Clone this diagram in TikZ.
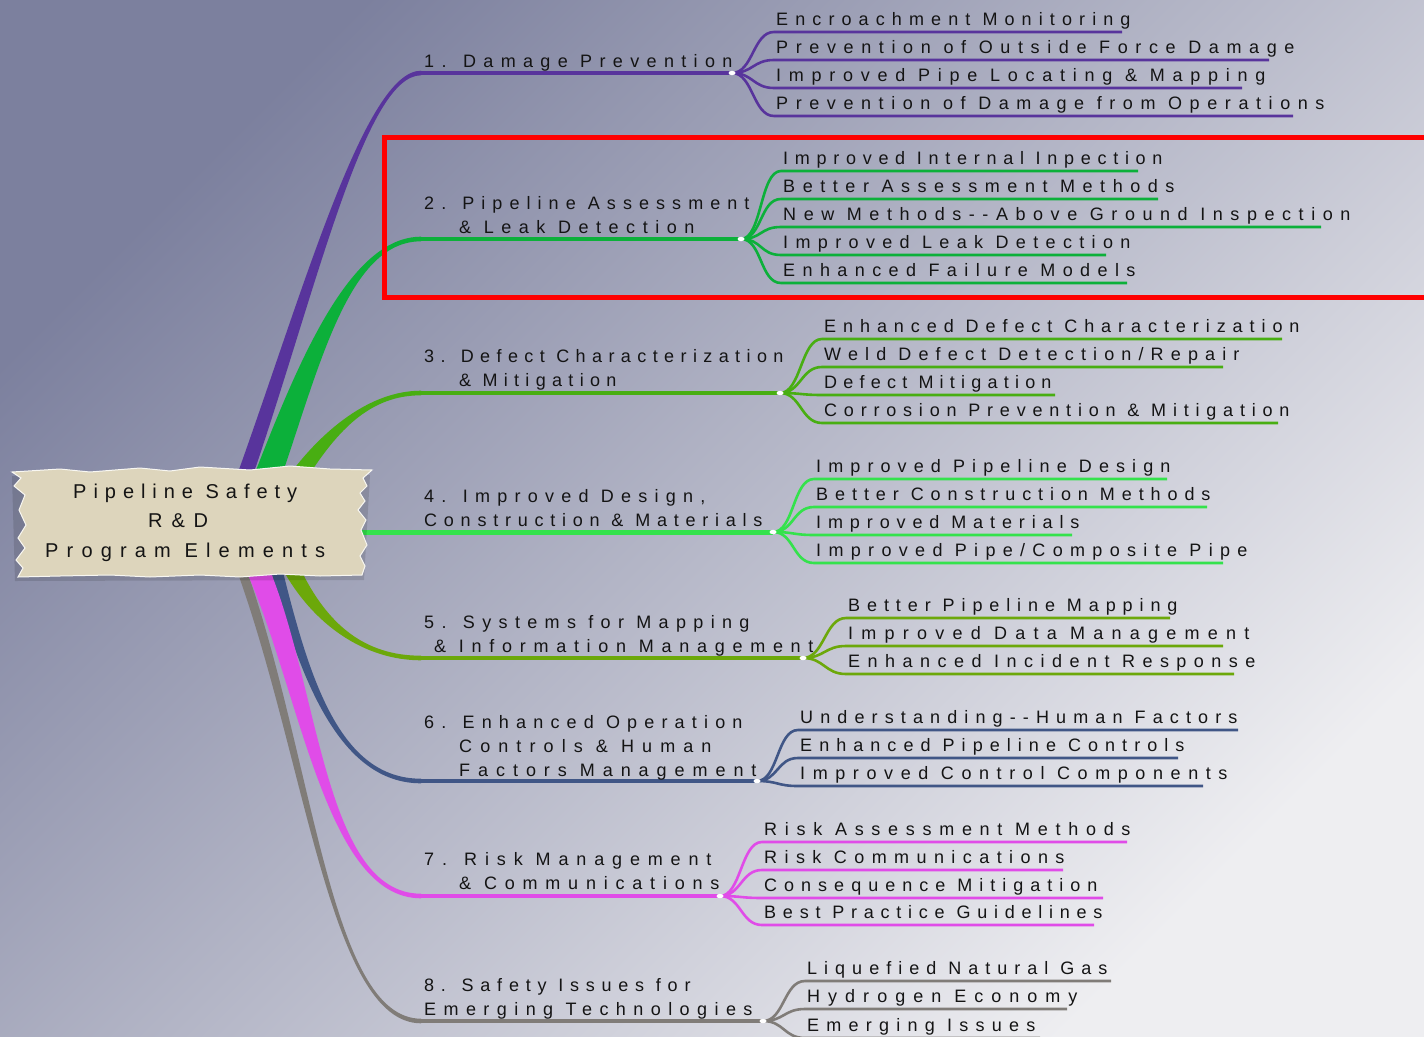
\documentclass[tikz,border=0pt]{standalone}
\usepackage{fontspec}
\setmainfont{Liberation Sans}
\newfontfamily\lsfont{Liberation Sans}
\usetikzlibrary{calc}
\definecolor{bgdark}{RGB}{124,128,158}
\definecolor{bglight}{RGB}{238,238,241}
\definecolor{cOne}{RGB}{88,52,156}
\definecolor{cTwo}{RGB}{12,176,58}
\definecolor{cThree}{RGB}{72,174,18}
\definecolor{cFour}{RGB}{52,226,76}
\definecolor{cFive}{RGB}{108,168,10}
\definecolor{cSix}{RGB}{64,86,134}
\definecolor{cSeven}{RGB}{224,76,232}
\definecolor{cEight}{RGB}{128,124,120}
\definecolor{paper}{RGB}{221,213,188}
\definecolor{txt}{RGB}{20,20,20}
% letter-spaced text fitted to a given visual width: size, width, text
\newlength\fitwa
\newlength\fitwb
\newcommand\fitted[3]{%
  \settowidth\fitwa{\lsfont\fontsize{#1}{#1}\selectfont #3}%
  \settowidth\fitwb{\lsfont\fontsize{#1}{#1}\selectfont\addfontfeature{LetterSpace=40}#3}%
  \pgfmathsetmacro\fitls{40*((#2)-0.15*#1-\fitwa)/(\fitwb-\fitwa)}%
  \lsfont\fontsize{#1}{#1}\selectfont
  \edef\fitnext{\noexpand\addfontfeature{LetterSpace=\fitls}}\fitnext #3}
% tapered branch: colour, x0, y0, half width, c1x, c1y, c2x, yend, sign
\newcommand\tapbranch[9]{%
  \fill[#1] ({#2-#4},#3) .. controls ({#5-0.8*#4},#6) and (#7,{#8-2.3*#9}) .. (421,{#8-2.3*#9})
    -- (421,{#8+2.3*#9}) .. controls (#7,{#8+2.3*#9}) and ({#5+0.8*#4},#6) .. ({#2+#4},#3) -- cycle;}
% leaf: name, colour, junction, start x, underline y, end x, text end x, text
\newcommand\leaf[8]{%
  \coordinate (#1s) at (#4,#5);
  \coordinate (#1e) at (#6,#5);
  \draw[subline,#2] (#3) .. controls +(21,0) and +(-21,0) .. (#1s) -- (#1e);
  \node[lbl] (#1) at ({#4+2},{#5-7}) {\fitted{18}{#7-#4-2}{#8}};}
\begin{document}
\begin{tikzpicture}[x=1pt,y=-1pt,
  lbl/.style={anchor=base west,inner sep=0pt,text=txt},
  mainline/.style={line width=4.5pt},
  subline/.style={line width=2.6pt},
  hub/.style={fill=white},
  redbox/.style={draw=red,line width=5pt}]
\useasboundingbox (0,0) rectangle (1424,1036);
\clip (0,0) rectangle (1424,1036);
\shade[top color=bgdark,bottom color=bglight,shading angle=45] (0,0) rectangle (1424,1036);

% junctions
\coordinate (j1) at (732,73);
\coordinate (j2) at (741,239);
\coordinate (j3) at (780,393);
\coordinate (j4) at (773,532);
\coordinate (j5) at (803,658);
\coordinate (j6) at (757,781);
\coordinate (j7) at (720,896);
\coordinate (j8) at (763,1021);
\coordinate (r4) at (360,532);

% main branches from the root
\tapbranch{cOne}{244}{478}{8}{310}{290}{365}{73}{1}
\tapbranch{cTwo}{267}{478}{14}{310}{360}{350}{239}{1}
\tapbranch{cThree}{297}{478}{10}{330}{430}{370}{393}{1}
\tapbranch{cEight}{241}{568}{5}{310}{760}{330}{1021}{-1}
\tapbranch{cSix}{276}{568}{6}{305}{680}{340}{781}{-1}
\tapbranch{cFive}{291}{568}{9}{320}{625}{365}{658}{-1}
\tapbranch{cSeven}{257}{568}{12}{310}{690}{325}{896}{-1}
\draw[mainline,cOne] (419,73) -- (j1);
\draw[mainline,cTwo] (419,239) -- (j2);
\draw[mainline,cThree] (419,393) -- (j3);
\draw[line width=5pt,cFour] (r4) -- (j4);
\draw[mainline,cFive] (419,658) -- (j5);
\draw[mainline,cSix] (419,781) -- (j6);
\draw[mainline,cSeven] (419,896) -- (j7);
\draw[mainline,cEight] (419,1021) -- (j8);

% leaves
\leaf{s1a}{cOne}{j1}{774}{32}{1122}{1133}{Encroachment Monitoring}
\leaf{s1b}{cOne}{j1}{774}{60}{1269}{1297}{Prevention of Outside Force Damage}
\leaf{s1c}{cOne}{j1}{774}{88}{1242}{1268}{Improved Pipe Locating \& Mapping}
\leaf{s1d}{cOne}{j1}{774}{116}{1293}{1327}{Prevention of Damage from Operations}
\leaf{s2a}{cTwo}{j2}{781}{171}{1138}{1165}{Improved Internal Inpection}
\leaf{s2b}{cTwo}{j2}{781}{199}{1158}{1177}{Better Assessment Methods}
\leaf{s2c}{cTwo}{j2}{781}{227}{1321}{1353}{New Methods{-}{-}Above Ground Inspection}
\leaf{s2d}{cTwo}{j2}{781}{255}{1106}{1133}{Improved Leak Detection}
\leaf{s2e}{cTwo}{j2}{781}{283}{1127}{1138}{Enhanced Failure Models}
\leaf{s3a}{cThree}{j3}{822}{339}{1282}{1302}{Enhanced Defect Characterization}
\leaf{s3b}{cThree}{j3}{822}{367}{1223}{1242}{Weld Defect Detection/Repair}
\leaf{s3c}{cThree}{j3}{822}{395}{1055}{1054}{Defect Mitigation}
\leaf{s3d}{cThree}{j3}{822}{423}{1278}{1292}{Corrosion Prevention \& Mitigation}
\leaf{s4a}{cFour}{j4}{814}{479}{1167}{1173}{Improved Pipeline Design}
\leaf{s4b}{cFour}{j4}{814}{507}{1207}{1213}{Better Construction Methods}
\leaf{s4c}{cFour}{j4}{814}{535}{1072}{1082}{Improved Materials}
\leaf{s4d}{cFour}{j4}{814}{563}{1223}{1250}{Improved Pipe/Composite Pipe}
\leaf{s5a}{cFive}{j5}{846}{618}{1170}{1180}{Better Pipeline Mapping}
\leaf{s5b}{cFive}{j5}{846}{646}{1223}{1252}{Improved Data Management}
\leaf{s5c}{cFive}{j5}{846}{674}{1234}{1258}{Enhanced Incident Response}
\leaf{s6a}{cSix}{j6}{798}{730}{1238}{1240}{Understanding{-}{-}Human Factors}
\leaf{s6b}{cSix}{j6}{798}{758}{1178}{1187}{Enhanced Pipeline Controls}
\leaf{s6c}{cSix}{j6}{798}{786}{1203}{1230}{Improved Control Components}
\leaf{s7a}{cSeven}{j7}{762}{842}{1127}{1133}{Risk Assessment Methods}
\leaf{s7b}{cSeven}{j7}{762}{870}{1063}{1067}{Risk Communications}
\leaf{s7c}{cSeven}{j7}{762}{898}{1103}{1100}{Consequence Mitigation}
\leaf{s7d}{cSeven}{j7}{762}{925}{1094}{1105}{Best Practice Guidelines}
\leaf{s8a}{cEight}{j8}{805}{981}{1111}{1110}{Liquefied Natural Gas}
\leaf{s8b}{cEight}{j8}{805}{1009}{1067}{1080}{Hydrogen Economy}
\leaf{s8c}{cEight}{j8}{805}{1038}{1040}{1038}{Emerging Issues}

% hubs
\foreach \j in {j1,j2,j3,j4,j5,j6,j7,j8}
  \fill[hub] (\j) ellipse (3.5pt and 2.2pt);

% branch labels
\node[lbl] (b1) at (424,67) {\fitted{18}{311}{1. Damage Prevention}};
\node[lbl] (b2a) at (424,209) {\fitted{18}{328}{2. Pipeline Assessment}};
\node[lbl] (b2b) at (459,233) {\fitted{18}{238}{\& Leak Detection}};
\node[lbl] (b3a) at (424,362) {\fitted{18}{362}{3. Defect Characterization}};
\node[lbl] (b3b) at (459,386) {\fitted{18}{160}{\& Mitigation}};
\node[lbl] (b4a) at (424,502) {\fitted{18}{284}{4. Improved Design,}};
\node[lbl] (b4b) at (424,526) {\fitted{18}{341}{Construction \& Materials}};
\node[lbl] (b5a) at (424,628) {\fitted{18}{328}{5. Systems for Mapping}};
\node[lbl] (b5b) at (434,652) {\fitted{18}{382}{\& Information Management}};
\node[lbl] (b6a) at (424,728) {\fitted{18}{321}{6. Enhanced Operation}};
\node[lbl] (b6b) at (459,752) {\fitted{18}{255}{Controls \& Human}};
\node[lbl] (b6c) at (459,776) {\fitted{18}{300}{Factors Management}};
\node[lbl] (b7a) at (424,865) {\fitted{18}{290}{7. Risk Management}};
\node[lbl] (b7b) at (459,889) {\fitted{18}{263}{\& Communications}};
\node[lbl] (b8a) at (424,991) {\fitted{18}{269}{8. Safety Issues for}};
\node[lbl] (b8b) at (424,1015) {\fitted{18}{331}{Emerging Technologies}};

% root (ragged paper)
\node[inner sep=0pt,minimum width=350pt,minimum height=105pt] (root) at (190,522) {};
\fill[black,opacity=0.12] (12,476) -- (370,475) -- (364,580) -- (15,581) -- cycle;
\filldraw[fill=paper,draw=white!80!paper,line width=1pt]
  (12,472) -- (60,469) -- (90,472) -- (140,468) -- (170,471) -- (200,467) -- (250,470)
  -- (290,466) -- (330,469) -- (372,470) -- (363,478) -- (367,486) -- (360,493) -- (365,501)
  -- (358,510) -- (366,520) -- (361,530) -- (367,545) -- (360,556) -- (365,566) -- (362,575)
  -- (320,576) -- (280,574) -- (240,577) -- (200,575) -- (150,577) -- (110,575) -- (60,576)
  -- (18,577) -- (23,568) -- (16,560) -- (25,548) -- (18,538) -- (26,525) -- (19,510)
  -- (25,495) -- (14,486) -- (21,478) -- cycle;
\node[lbl] (rt1) at (73,498) {\fitted{20}{227}{Pipeline Safety}};
\node[lbl] (rt2) at (148,527) {\fitted{20}{63}{R \& D}};
\node[lbl] (rt3) at (45,557) {\fitted{20}{283}{Program Elements}};

% highlight frame
\draw[redbox] (384,137.5) rectangle (1440,297.5);
\end{tikzpicture}
\end{document}
